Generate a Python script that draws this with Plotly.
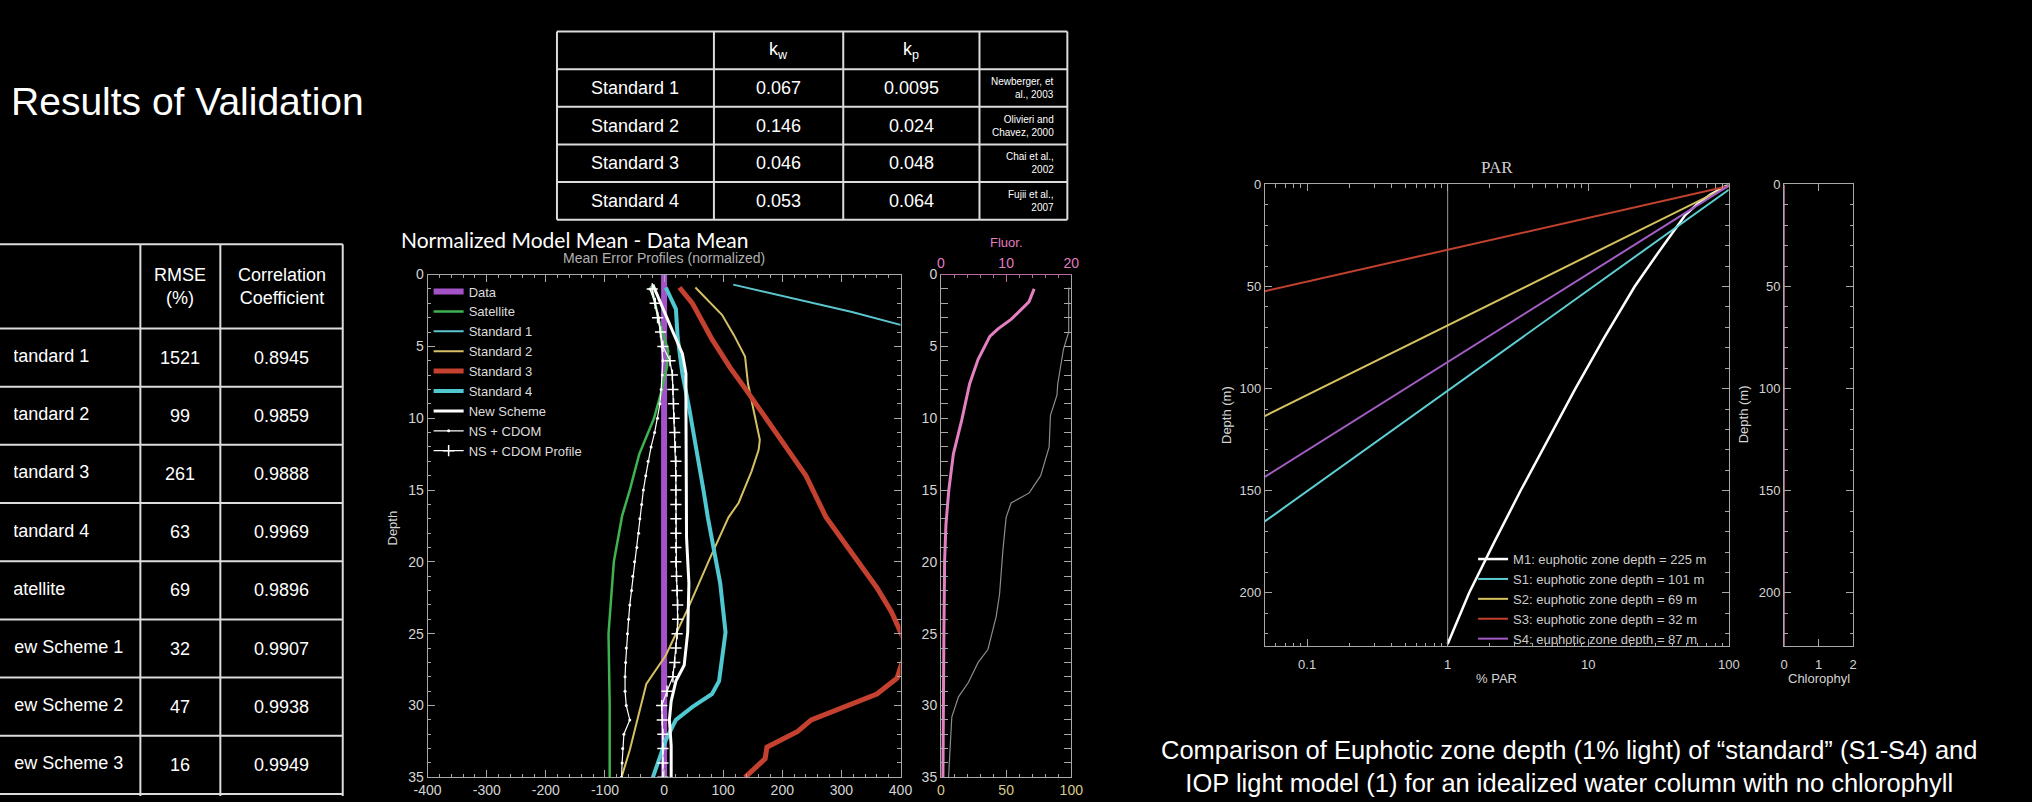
import math
import plotly.graph_objects as go

W, H = 2032, 802

# ---------------- table data ----------------
val_models = ["Standard 1", "Standard 2", "Standard 3", "Standard 4", "Satellite",
              "New Scheme 1", "New Scheme 2", "New Scheme 3"]
val_rmse = ["1521", "99", "261", "63", "69", "32", "47", "16"]
val_corr = ["0.8945", "0.9859", "0.9888", "0.9969", "0.9896", "0.9907", "0.9938", "0.9949"]

std_models = ["Standard 1", "Standard 2", "Standard 3", "Standard 4"]
std_kw = ["0.067", "0.146", "0.046", "0.053"]
std_kp = ["0.0095", "0.024", "0.048", "0.064"]
std_refs = ["Newberger, et<br>al., 2003", "Olivieri and<br>Chavez, 2000",
            "Chai et al.,<br>2002", "Fujii et al.,<br>2007"]

# ---------------- mean error profiles (normalized, %) ----------------
err_ticks = [-400, -300, -200, -100, 0, 100, 200, 300, 400]
err_ticktext = ["-400", "-300", "-200", "-100", "0", "100", "200", "300", "400"]
data_depth = [0, 35]
data_err = [0, 0]
sat_depth = [0.8, 2, 3.3, 5.3, 6.4, 8.2, 10, 12.5, 15, 16.8, 18.2, 20, 25, 30, 35]
sat_err = [-22, -15, -8, 7, 5, -5, -17, -42, -58, -71, -77, -85, -94, -92, -92]
s1_depth = [0.7, 2.6, 3.5, 4.7]
s1_err = [117, 318, 400, 540]
s2_depth = [0.9, 2.8, 4.2, 5.7, 7.6, 9.3, 11.5, 12.2, 13.7, 15.9, 16.9, 19.9, 23.1, 26.5, 28.5, 33.1, 35]
s2_err = [53, 98, 118, 137, 142, 151, 162, 160, 148, 126, 109, 76, 42, 3, -30, -58, -72]
s3_depth = [0.9, 2.0, 4.5, 6.5, 7.8, 9.0, 11.8, 14.0, 16.9, 19.5, 21.0, 21.8, 23.5, 25.0, 26.0,
            27.1, 28.1, 29.2, 30.1, 31.0, 31.8, 32.9, 33.7, 35.0]
s3_err = [26, 48, 81, 112, 135, 155, 204, 240, 274, 320, 344, 360, 385, 402, 412,
          402, 394, 360, 305, 249, 226, 174, 171, 137]
s4_depth = [0.9, 2.4, 4.4, 6.9, 9.2, 11.9, 15.1, 16.9, 19.0, 21.5, 24.9, 27.0, 28.3, 29.2,
            30.1, 31.0, 32.4, 33.7, 35.0]
s4_err = [3, 20, 23, 31, 42, 54, 67, 74, 84, 95, 104, 98, 93, 81, 48, 20, 3, -8, -19]
ns_depth = [0.7, 2.4, 4.0, 5.5, 6.9, 9.2, 13.7, 18.3, 21.5, 24.9, 27.2, 28.3, 29.7, 31.0, 32.8, 35.0]
ns_err = [-19, -2, 15, 31, 37, 37, 37, 38, 42, 40, 34, 20, 12, 9, 12, 12]
nsc_depth = list(range(1, 36))
nsc_err = [-24, -15, -9, -6, -4, -2, -3, -5, -7, -11, -16, -22, -27, -31, -35, -38, -41, -43,
           -46, -50, -53, -55, -58, -60, -62, -64, -65, -66, -66, -64, -58, -68, -70, -71, -72]
nscp_depth = list(range(1, 36))
nscp_err = [-20, -15, -11, -6, -2, 10, 14, 15, 16, 17, 18, 19, 20, 20, 20, 20, 20, 20, 20, 20,
            21, 22, 23, 23, 22, 20, 18, 15, 5, -4, -3, -2, -2, -2, -2]

# ---------------- fluorescence panel ----------------
fluor_depth = [1, 1.9, 3.1, 3.8, 4.3, 5.9, 7.6, 10.1, 12.5, 15, 17.4, 19.9, 24.7, 29.6, 35]
fluor_val = [14.3, 13.5, 10.8, 8.7, 7.5, 5.7, 4.4, 3.2, 1.9, 1.2, 0.76, 0.56, 0.45, 0.35, 0.3]
gray_depth = [0.9, 4.0, 5.2, 7.6, 8.4, 9.8, 12.0, 14.0, 15.2, 15.9, 16.9, 19.2, 22.2, 23.8,
              26.1, 27.0, 28.4, 29.4, 30.8, 33.1, 35]
gray_val = [98, 98, 94, 89.6, 89, 84, 83, 76.5, 67.7, 53.8, 50, 47.5, 45, 42.4,
            36, 28.5, 21, 13.4, 8.3, 7, 5.8]

# ---------------- PAR panel ----------------
par_names = ["M1: euphotic zone depth = 225 m", "S1: euphotic zone depth = 101 m",
             "S2: euphotic zone depth = 69 m", "S3: euphotic zone depth = 32 m",
             "S4: euphotic zone depth = 87 m"]
m1_depth = [0, 2, 5, 10, 15, 20, 25, 35, 50, 75, 100, 125, 150, 175, 200, 225]
m1_par = [100, 88, 74, 59, 49, 43.5, 38.5, 30.3, 21.4, 13.0, 8.1, 5.2, 3.3, 2.15, 1.42, 1.0]
s_par = [100, 1, 0.05]
ps1_depth = [2.6, 101, 165]
ps2_depth = [0.8, 69, 113.4]
ps3_depth = [0.8, 32, 52.3]
ps4_depth = [0.6, 87, 143.2]
ref_par = [1, 1]
ref_depth = [0, 226]
chl_depth = [0, 226]
chl_val = [0, 0]

# ---------------- styling ----------------
SANS = "Liberation Sans, Arial, Helvetica, sans-serif"
AX = "#a8a8a8"
TXT = "#d4d4d4"
LINE = "#dcdcdc"


def X(p):
    return p / W


def Y(p):
    return 1 - p / H


def axis(**kw):
    minor = kw.pop("minor", {})
    m = dict(ticks="inside", ticklen=3.5, tickcolor=AX, showgrid=False)
    m.update(minor)
    base = dict(showline=True, linecolor=AX, linewidth=1, mirror="allticks",
                ticks="inside", ticklen=7, tickcolor=AX, tickwidth=1,
                showgrid=False, zeroline=False,
                tickfont=dict(size=14, color=TXT, family=SANS), minor=m)
    base.update(kw)
    return base


fig = go.Figure()

# main profile panel
main_series = [
    ("Data", data_depth, data_err, "#a352c8", 6, None),
    ("Satellite", sat_depth, sat_err, "#3fb34f", 2.5, None),
    ("Standard 1", s1_depth, s1_err, "#5cc6cf", 2, None),
    ("Standard 2", s2_depth, s2_err, "#d6c064", 2, None),
    ("Standard 3", s3_depth, s3_err, "#c4402f", 5, None),
    ("Standard 4", s4_depth, s4_err, "#4fc8d2", 4, None),
    ("New Scheme", ns_depth, ns_err, "#ffffff", 3, None),
    ("NS + CDOM", nsc_depth, nsc_err, "#ffffff", 1.2, dict(symbol="circle", size=3, color="#ffffff")),
    ("NS + CDOM Profile", nscp_depth, nscp_err, "#ffffff", 1.2,
     dict(symbol="cross-thin", size=8, line=dict(width=1.5, color="#ffffff"))),
]
for name, d, v, col, w, mk in main_series:
    fig.add_trace(go.Scatter(
        x=v, y=d, name=name, mode="lines+markers" if mk else "lines",
        line=dict(color=col, width=w), marker=mk, xaxis="x", yaxis="y", legend="legend"))

# fluorescence panel
fig.add_trace(go.Scatter(x=gray_val, y=gray_depth, mode="lines", line=dict(color="#8c8c8c", width=1.2),
                         xaxis="x2", yaxis="y2", showlegend=False))
fig.add_trace(go.Scatter(x=fluor_val, y=fluor_depth, mode="lines", line=dict(color="#e47fc2", width=3),
                         xaxis="x3", yaxis="y2", showlegend=False))

# PAR panel
fig.add_trace(go.Scatter(x=ref_par, y=ref_depth, mode="lines", line=dict(color="#9a9a9a", width=1),
                         xaxis="x4", yaxis="y4", showlegend=False))
par_series = [
    (par_names[0], m1_par, m1_depth, "#ffffff", 2.5),
    (par_names[1], s_par, ps1_depth, "#5ccfd2", 2),
    (par_names[2], s_par, ps2_depth, "#d6c25e", 2),
    (par_names[3], s_par, ps3_depth, "#c2412f", 2),
    (par_names[4], s_par, ps4_depth, "#a45dc6", 2),
]
for name, p, d, col, w in par_series:
    fig.add_trace(go.Scatter(x=p, y=d, name=name, mode="lines", line=dict(color=col, width=w),
                             xaxis="x4", yaxis="y4", legend="legend2"))

# chlorophyll panel
fig.add_trace(go.Scatter(x=chl_val, y=chl_depth, mode="lines", line=dict(color="#d774b4", width=1.5),
                         xaxis="x5", yaxis="y5", showlegend=False))

# ---------------- slide texts that run off the left edge (clipped like the slide) ----------------
lt_cols = [-20, 128, 209, 333]
lt_top, lt_head = 241, 327
lt_row_h = (H - lt_head) / len(val_models)
row_centers = [lt_head + lt_row_h * (i + 0.5) for i in range(len(val_models))]

fig.add_trace(go.Scatter(x=[-3], y=[99], mode="text", text=["Results of Validation"],
                         textposition="middle right",
                         textfont=dict(size=39, color="#ffffff", family=SANS),
                         xaxis="x6", yaxis="y6", showlegend=False, hoverinfo="skip",
                         cliponaxis=True))
fig.add_trace(go.Scatter(x=[-13] * len(val_models), y=row_centers, mode="text", text=val_models,
                         textposition="middle right",
                         textfont=dict(size=18, color="#ffffff", family=SANS),
                         xaxis="x6", yaxis="y6", showlegend=False, hoverinfo="skip",
                         cliponaxis=True))

log_minor = [k * 10 ** e for e in (-2, -1, 0, 1) for k in range(2, 10) if 0.05 <= k * 10 ** e <= 100]

fig.update_layout(
    width=W, height=H, autosize=False,
    margin=dict(l=0, r=0, t=0, b=0),
    paper_bgcolor="#000000", plot_bgcolor="rgba(0,0,0,0)",
    font=dict(family=SANS, color=TXT),
    xaxis=axis(domain=[X(419), X(898)], anchor="y", range=[-400, 400],
               tickvals=err_ticks, ticktext=err_ticktext, minor=dict(dtick=20)),
    yaxis=axis(domain=[Y(785), Y(272)], anchor="x", range=[35, 0], dtick=5, tick0=0,
               minor=dict(dtick=1)),
    xaxis2=axis(domain=[X(939), X(1071)], anchor="y2", range=[0, 100], dtick=50, mirror=False,
                tickfont=dict(size=14, color="#d8c98e", family=SANS), minor=dict(dtick=10)),
    xaxis3=axis(overlaying="x2", anchor="y2", side="top", range=[0, 20], dtick=10, mirror=False,
                linecolor="#b66a9e", tickcolor="#b66a9e",
                tickfont=dict(size=14, color="#e07cc0", family=SANS),
                minor=dict(dtick=2, tickcolor="#b66a9e")),
    yaxis2=axis(domain=[Y(785), Y(272)], anchor="x2", range=[35, 0], dtick=5, tick0=0,
                minor=dict(dtick=1)),
    xaxis4=axis(domain=[X(1267), X(1737)], anchor="y4", type="log",
                range=[math.log10(0.05), 2], tickvals=[0.1, 1, 10, 100],
                ticktext=["0.1", "1", "10", "100"], ticklabelstandoff=6,
                tickfont=dict(size=13, color=TXT, family=SANS),
                minor=dict(tickvals=log_minor)),
    yaxis4=axis(domain=[Y(651), Y(180)], anchor="x4", range=[226, 0], dtick=50, tick0=0,
                tickfont=dict(size=13, color=TXT, family=SANS), minor=dict(dtick=10)),
    xaxis5=axis(domain=[X(1793), X(1863)], anchor="y5", range=[0, 2], dtick=1, tick0=0,
                ticklabelstandoff=6, tickfont=dict(size=13, color=TXT, family=SANS),
                minor=dict(ticks="")),
    yaxis5=axis(domain=[Y(651), Y(180)], anchor="x5", range=[226, 0], dtick=50, tick0=0,
                tickfont=dict(size=13, color=TXT, family=SANS), minor=dict(dtick=10)),
    xaxis6=dict(domain=[0, 1], anchor="y6", range=[0, W], visible=False, fixedrange=True),
    yaxis6=dict(domain=[0, 1], anchor="x6", range=[H, 0], visible=False, fixedrange=True),
    legend=dict(x=X(420), y=Y(274), xanchor="left", yanchor="top", bgcolor="rgba(0,0,0,0)",
                font=dict(size=13, color="#dddddd", family=SANS), tracegroupgap=0, itemwidth=30),
    legend2=dict(x=X(1478), y=Y(547), xanchor="left", yanchor="top", bgcolor="rgba(0,0,0,0)",
                 font=dict(size=13, color="#cccccc", family=SANS), tracegroupgap=0, itemwidth=30),
)


# ---------------- tables, titles, labels ----------------
def ann(text, x, y, size, color="#ffffff", family=SANS, xanchor="center", yanchor="middle",
        angle=0, align="center"):
    return dict(text=text, x=X(x), y=Y(y), xref="paper", yref="paper", showarrow=False,
                font=dict(size=size, color=color, family=family), xanchor=xanchor,
                yanchor=yanchor, textangle=angle, align=align)


def hline(x0, x1, y):
    return dict(type="line", xref="paper", yref="paper", x0=X(x0), x1=X(x1), y0=Y(y), y1=Y(y),
                line=dict(color=LINE, width=2))


def vline(x, y0, y1):
    return dict(type="line", xref="paper", yref="paper", x0=X(x), x1=X(x), y0=Y(y0), y1=Y(y1),
                line=dict(color=LINE, width=2))


annotations = []
shapes = []

# left validation table grid + numeric cells
lt_rows = [lt_top, lt_head] + [lt_head + lt_row_h * (i + 1) for i in range(len(val_models))]
for yy in lt_rows:
    shapes.append(hline(lt_cols[0], lt_cols[-1], yy))
for xx in lt_cols[1:]:
    shapes.append(vline(xx, lt_top, H + 2))
annotations.append(ann("RMSE<br>(%)", (lt_cols[1] + lt_cols[2]) / 2, (lt_top + lt_head) / 2, 18))
annotations.append(ann("Correlation<br>Coefficient", (lt_cols[2] + lt_cols[3]) / 2,
                       (lt_top + lt_head) / 2, 18))
for yc, r, c in zip(row_centers, val_rmse, val_corr):
    annotations.append(ann(r, (lt_cols[1] + lt_cols[2]) / 2, yc, 18))
    annotations.append(ann(c, (lt_cols[2] + lt_cols[3]) / 2, yc, 18))

# top coefficient table
tt_cols = [550, 709, 840, 978, 1067]
tt_top, tt_bot = 24, 216
tt_h = (tt_bot - tt_top) / (len(std_models) + 1)
tt_rows = [tt_top + tt_h * k for k in range(len(std_models) + 2)]
for yy in tt_rows:
    shapes.append(hline(tt_cols[0], tt_cols[-1], yy))
for xx in tt_cols:
    shapes.append(vline(xx, tt_top, tt_bot))
hy = tt_top + tt_h / 2
annotations.append(ann("k<sub>w</sub>", (tt_cols[1] + tt_cols[2]) / 2, hy, 18))
annotations.append(ann("k<sub>p</sub>", (tt_cols[2] + tt_cols[3]) / 2, hy, 18))
for i, (m, kw, kp, rf) in enumerate(zip(std_models, std_kw, std_kp, std_refs)):
    yc = tt_top + tt_h * (i + 1.5)
    annotations.append(ann(m, (tt_cols[0] + tt_cols[1]) / 2, yc, 18))
    annotations.append(ann(kw, (tt_cols[1] + tt_cols[2]) / 2, yc, 18))
    annotations.append(ann(kp, (tt_cols[2] + tt_cols[3]) / 2, yc, 18))
    annotations.append(ann(rf, tt_cols[4] - 12, yc, 10, xanchor="right", align="right"))

# middle chart labels
annotations.append(ann("Normalized Model Mean - Data Mean", 390, 236, 21,
                       family="Lato, Open Sans, sans-serif", xanchor="left"))
annotations.append(ann("Mean Error Profiles (normalized)", 658, 255, 14, color="#b0b0b0"))
annotations.append(ann("Depth", 383, 531, 13, color=TXT, angle=-90))
annotations.append(ann("Fluor.", 1005, 239, 13, color="#e07cc0"))

# PAR / chlorophyll labels
annotations.append(ann("PAR", 1502, 163, 17, color="#d0d0d0",
                       family="Liberation Serif, Times New Roman, serif"))
annotations.append(ann("Depth (m)", 1228, 415, 13, color=TXT, angle=-90))
annotations.append(ann("Depth (m)", 1752, 415, 13, color=TXT, angle=-90))
annotations.append(ann("% PAR", 1502, 684, 13, color=TXT))
annotations.append(ann("Chlorophyl", 1828, 684, 13, color=TXT))

annotations.append(ann("Comparison of Euphotic zone depth (1% light) of \u201cstandard\u201d (S1-S4) and"
                       "<br>IOP light model (1) for an idealized water column with no chlorophyll",
                       1575, 774, 25.5))

fig.update_layout(annotations=annotations, shapes=shapes)
fig.write_html(
    "out.html",
    config={"displayModeBar": False},
    post_script="document.body.style.margin='0px';document.body.style.background='#000';"
                "document.body.style.overflow='hidden';",
)
